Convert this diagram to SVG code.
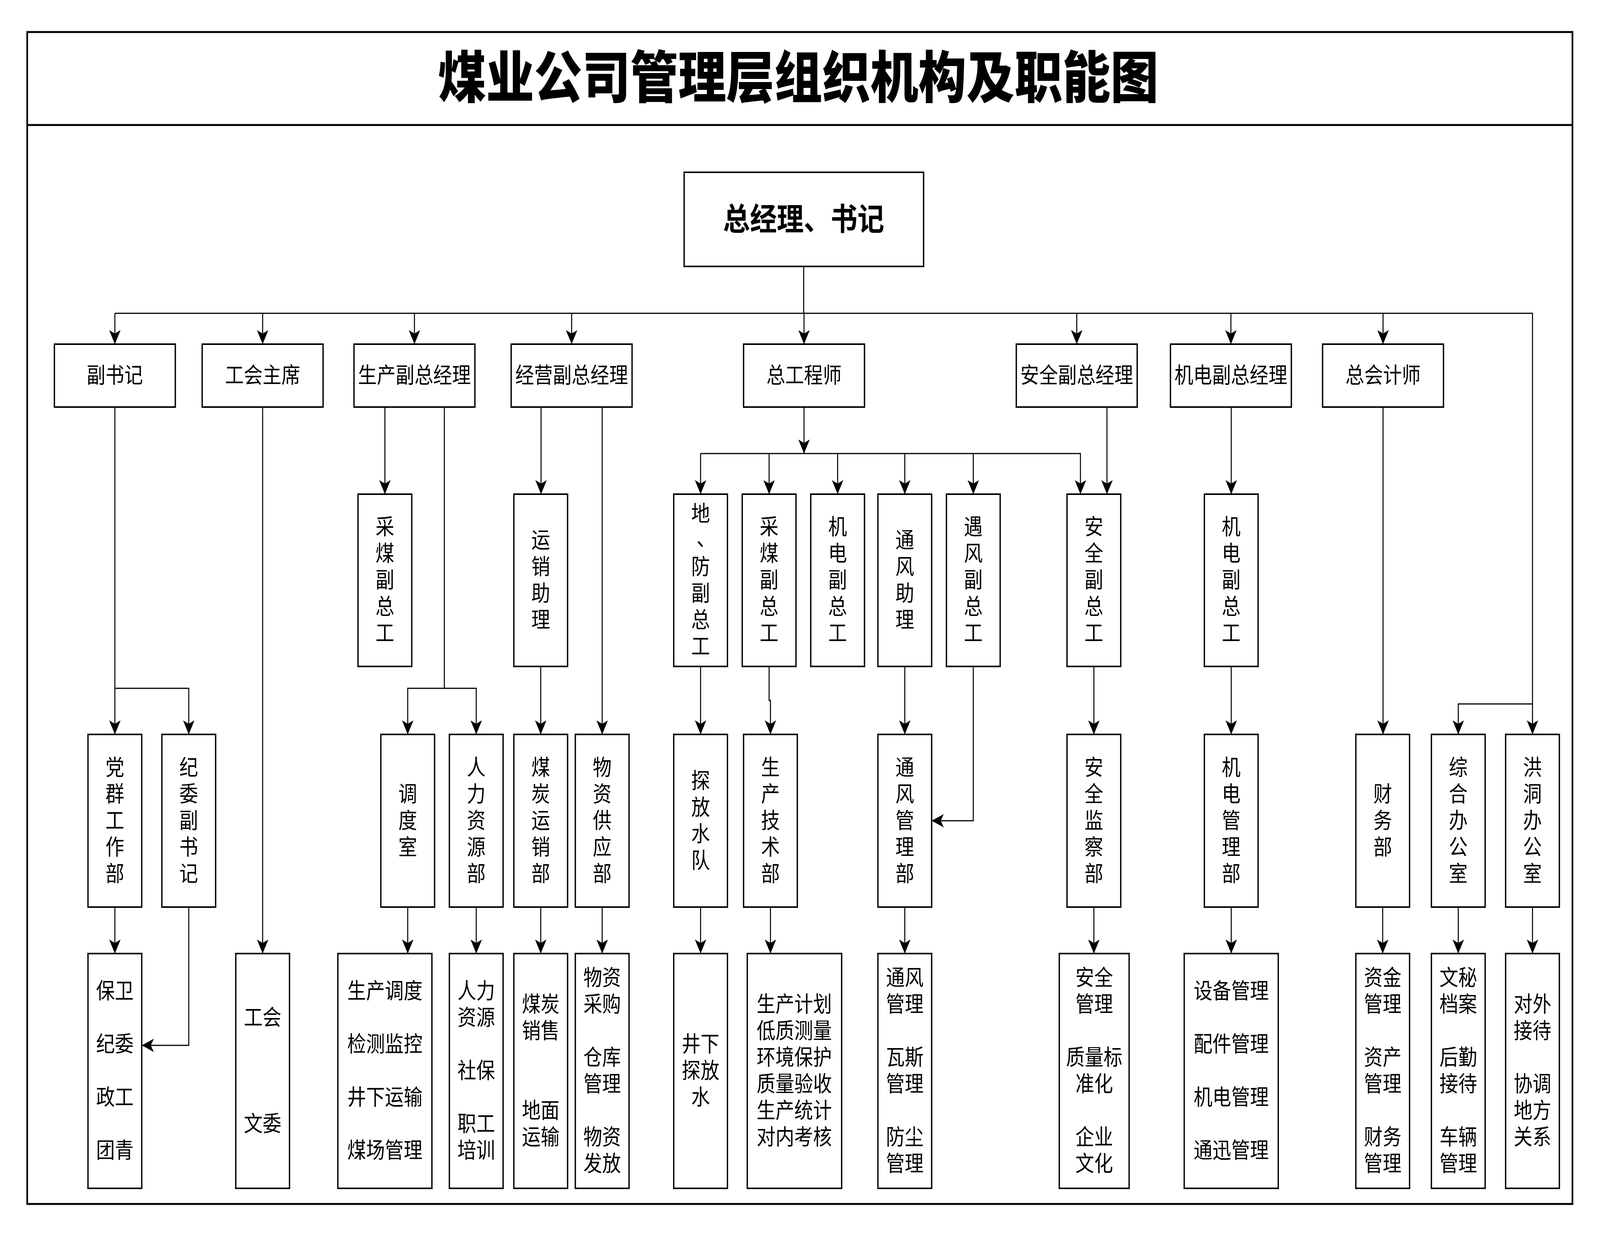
<svg xmlns="http://www.w3.org/2000/svg" width="4764" height="3164" viewBox="0 0 4764 3164" preserveAspectRatio="none">
<defs>
<style>
svg{width:100vw;height:100vh;display:block}
.box{fill:#fff;stroke:#000;stroke-width:4}
.frame{fill:none;stroke:#000;stroke-width:5}
.conn{fill:none;stroke:#000;stroke-width:3}
.arr{marker-end:url(#arrow)}
.t{font-family:"Liberation Sans","Noto Sans CJK SC",sans-serif;font-size:56px;text-anchor:middle;dominant-baseline:central;fill:#000}
.title{font-family:"Liberation Sans","Noto Sans CJK SC",sans-serif;font-size:143px;font-weight:900;text-anchor:middle;dominant-baseline:central;fill:#000}
.main{font-family:"Liberation Sans","Noto Sans CJK SC",sans-serif;font-size:80px;font-weight:700;text-anchor:middle;dominant-baseline:central;fill:#000}
</style>
<marker id="arrow" markerUnits="userSpaceOnUse" markerWidth="36" markerHeight="34" viewBox="0 0 36 34" refX="36" refY="17" orient="auto">
<path d="M0,0 L36,17 L0,34 L9,17 Z" fill="#000"/>
</marker>
</defs>
<rect x="0" y="0" width="4764" height="3164" fill="#fff"/>
<g id="frame">
<rect class="frame" x="81" y="82" width="4601" height="3000"/>
<line class="frame" x1="81" y1="320" x2="4682" y2="320"/>
<text class="title" x="2377" y="200">煤业公司管理层组织机构及职能图</text>
</g>

<g id="connectors">
<path class="conn" d="M2393,682 V802"/>
<path class="conn arr" d="M342,802 H4563 V1880"/>
<path class="conn arr" d="M342,802 V881"/>
<path class="conn arr" d="M782,802 V881"/>
<path class="conn arr" d="M1234,802 V881"/>
<path class="conn arr" d="M1702,802 V881"/>
<path class="conn arr" d="M2394,802 V881"/>
<path class="conn arr" d="M3206,802 V881"/>
<path class="conn arr" d="M3665,802 V881"/>
<path class="conn arr" d="M4118,802 V881"/>
<path class="conn arr" d="M4563,1802 H4342 V1880"/>
<path class="conn arr" d="M342,1042 V1880"/>
<path class="conn arr" d="M342,1762 H562 V1880"/>
<path class="conn arr" d="M342,2322 V2441"/>
<path class="conn arr" d="M562,2322 V2676 H422"/>
<path class="conn arr" d="M782,1042 V2441"/>
<path class="conn arr" d="M1146,1042 V1265"/>
<path class="conn arr" d="M1323,1042 V1762 H1214 V1880"/>
<path class="conn arr" d="M1323,1762 H1418 V1880"/>
<path class="conn arr" d="M1214,2322 V2441"/>
<path class="conn arr" d="M1418,2322 V2441"/>
<path class="conn arr" d="M1611,1042 V1265"/>
<path class="conn arr" d="M1793,1042 V1880"/>
<path class="conn arr" d="M1610,1706 V1880"/>
<path class="conn arr" d="M1610,2322 V2441"/>
<path class="conn arr" d="M1793,2322 V2441"/>
<path class="conn arr" d="M2394,1042 V1161"/>
<path class="conn arr" d="M2086,1161 H3217 V1265"/>
<path class="conn arr" d="M2086,1161 V1265"/>
<path class="conn arr" d="M2290,1161 V1265"/>
<path class="conn arr" d="M2494,1161 V1265"/>
<path class="conn arr" d="M2694,1161 V1265"/>
<path class="conn arr" d="M2898,1161 V1265"/>
<path class="conn arr" d="M2086,1706 V1880"/>
<path class="conn arr" d="M2086,2322 V2441"/>
<path class="conn arr" d="M2290,1706 V1793 H2294 V1880"/>
<path class="conn arr" d="M2294,2322 V2441"/>
<path class="conn arr" d="M2694,1706 V1880"/>
<path class="conn arr" d="M2694,2322 V2441"/>
<path class="conn arr" d="M2898,1706 V2101 H2774"/>
<path class="conn arr" d="M3296,1042 V1265"/>
<path class="conn arr" d="M3257,1706 V1880"/>
<path class="conn arr" d="M3257,2322 V2441"/>
<path class="conn arr" d="M3666,1042 V1265"/>
<path class="conn arr" d="M3666,1706 V1880"/>
<path class="conn arr" d="M3666,2322 V2441"/>
<path class="conn arr" d="M4118,1042 V1880"/>
<path class="conn arr" d="M4117,2322 V2441"/>
<path class="conn arr" d="M4342,2322 V2441"/>
<path class="conn arr" d="M4563,2322 V2441"/>
</g>

<g id="n-root"><rect class="box" x="2037" y="441" width="713" height="241"/><text class="main" x="2393" y="561">总经理、书记</text></g>

<g id="n-fushuji"><rect class="box" x="162" y="881" width="360" height="161"/><text class="t" x="342" y="961">副书记</text></g>
<g id="n-gonghuizhuxi"><rect class="box" x="602" y="881" width="360" height="161"/><text class="t" x="782" y="961">工会主席</text></g>
<g id="n-shengchanfzjl"><rect class="box" x="1054" y="881" width="360" height="161"/><text class="t" x="1234" y="961">生产副总经理</text></g>
<g id="n-jingyingfzjl"><rect class="box" x="1522" y="881" width="360" height="161"/><text class="t" x="1702" y="961">经营副总经理</text></g>
<g id="n-zonggongchengshi"><rect class="box" x="2214" y="881" width="360" height="161"/><text class="t" x="2394" y="961">总工程师</text></g>
<g id="n-anquanfzjl"><rect class="box" x="3026" y="881" width="360" height="161"/><text class="t" x="3206" y="961">安全副总经理</text></g>
<g id="n-jidianfzjl"><rect class="box" x="3485" y="881" width="360" height="161"/><text class="t" x="3665" y="961">机电副总经理</text></g>
<g id="n-zongkuaijishi"><rect class="box" x="3938" y="881" width="360" height="161"/><text class="t" x="4118" y="961">总会计师</text></g>

<g id="n-caimeifzg1"><rect class="box" x="1066" y="1265" width="160" height="441"/><text class="t"><tspan x="1146" y="1349">采</tspan><tspan x="1146" y="1417">煤</tspan><tspan x="1146" y="1485">副</tspan><tspan x="1146" y="1553">总</tspan><tspan x="1146" y="1621">工</tspan></text></g>
<g id="n-yunxiaozhuli"><rect class="box" x="1530" y="1265" width="160" height="441"/><text class="t"><tspan x="1610" y="1383">运</tspan><tspan x="1610" y="1451">销</tspan><tspan x="1610" y="1519">助</tspan><tspan x="1610" y="1587">理</tspan></text></g>
<g id="n-difangfzg"><rect class="box" x="2006" y="1265" width="160" height="441"/><text class="t"><tspan x="2086" y="1315">地</tspan><tspan x="2102" y="1378">、</tspan><tspan x="2086" y="1451">防</tspan><tspan x="2086" y="1519">副</tspan><tspan x="2086" y="1587">总</tspan><tspan x="2086" y="1655">工</tspan></text></g>
<g id="n-caimeifzg2"><rect class="box" x="2210" y="1265" width="160" height="441"/><text class="t"><tspan x="2290" y="1349">采</tspan><tspan x="2290" y="1417">煤</tspan><tspan x="2290" y="1485">副</tspan><tspan x="2290" y="1553">总</tspan><tspan x="2290" y="1621">工</tspan></text></g>
<g id="n-jidianfzg1"><rect class="box" x="2414" y="1265" width="160" height="441"/><text class="t"><tspan x="2494" y="1349">机</tspan><tspan x="2494" y="1417">电</tspan><tspan x="2494" y="1485">副</tspan><tspan x="2494" y="1553">总</tspan><tspan x="2494" y="1621">工</tspan></text></g>
<g id="n-tongfengzhuli"><rect class="box" x="2614" y="1265" width="160" height="441"/><text class="t"><tspan x="2694" y="1383">通</tspan><tspan x="2694" y="1451">风</tspan><tspan x="2694" y="1519">助</tspan><tspan x="2694" y="1587">理</tspan></text></g>
<g id="n-yufengfzg"><rect class="box" x="2818" y="1265" width="160" height="441"/><text class="t"><tspan x="2898" y="1349">遇</tspan><tspan x="2898" y="1417">风</tspan><tspan x="2898" y="1485">副</tspan><tspan x="2898" y="1553">总</tspan><tspan x="2898" y="1621">工</tspan></text></g>
<g id="n-anquanfzg"><rect class="box" x="3177" y="1265" width="160" height="441"/><text class="t"><tspan x="3257" y="1349">安</tspan><tspan x="3257" y="1417">全</tspan><tspan x="3257" y="1485">副</tspan><tspan x="3257" y="1553">总</tspan><tspan x="3257" y="1621">工</tspan></text></g>
<g id="n-jidianfzg2"><rect class="box" x="3586" y="1265" width="160" height="441"/><text class="t"><tspan x="3666" y="1349">机</tspan><tspan x="3666" y="1417">电</tspan><tspan x="3666" y="1485">副</tspan><tspan x="3666" y="1553">总</tspan><tspan x="3666" y="1621">工</tspan></text></g>

<g id="n-dangqun"><rect class="box" x="262" y="1880" width="160" height="442"/><text class="t"><tspan x="342" y="1965">党</tspan><tspan x="342" y="2033">群</tspan><tspan x="342" y="2101">工</tspan><tspan x="342" y="2169">作</tspan><tspan x="342" y="2237">部</tspan></text></g>
<g id="n-jiwei"><rect class="box" x="482" y="1880" width="160" height="442"/><text class="t"><tspan x="562" y="1965">纪</tspan><tspan x="562" y="2033">委</tspan><tspan x="562" y="2101">副</tspan><tspan x="562" y="2169">书</tspan><tspan x="562" y="2237">记</tspan></text></g>
<g id="n-diaodu"><rect class="box" x="1134" y="1880" width="160" height="442"/><text class="t"><tspan x="1214" y="2033">调</tspan><tspan x="1214" y="2101">度</tspan><tspan x="1214" y="2169">室</tspan></text></g>
<g id="n-renli"><rect class="box" x="1338" y="1880" width="160" height="442"/><text class="t"><tspan x="1418" y="1965">人</tspan><tspan x="1418" y="2033">力</tspan><tspan x="1418" y="2101">资</tspan><tspan x="1418" y="2169">源</tspan><tspan x="1418" y="2237">部</tspan></text></g>
<g id="n-meitanyunxiao"><rect class="box" x="1530" y="1880" width="160" height="442"/><text class="t"><tspan x="1610" y="1965">煤</tspan><tspan x="1610" y="2033">炭</tspan><tspan x="1610" y="2101">运</tspan><tspan x="1610" y="2169">销</tspan><tspan x="1610" y="2237">部</tspan></text></g>
<g id="n-wuzi"><rect class="box" x="1713" y="1880" width="160" height="442"/><text class="t"><tspan x="1793" y="1965">物</tspan><tspan x="1793" y="2033">资</tspan><tspan x="1793" y="2101">供</tspan><tspan x="1793" y="2169">应</tspan><tspan x="1793" y="2237">部</tspan></text></g>
<g id="n-tanfang"><rect class="box" x="2006" y="1880" width="160" height="442"/><text class="t"><tspan x="2086" y="1999">探</tspan><tspan x="2086" y="2067">放</tspan><tspan x="2086" y="2135">水</tspan><tspan x="2086" y="2203">队</tspan></text></g>
<g id="n-shengchanjishu"><rect class="box" x="2214" y="1880" width="160" height="442"/><text class="t"><tspan x="2294" y="1965">生</tspan><tspan x="2294" y="2033">产</tspan><tspan x="2294" y="2101">技</tspan><tspan x="2294" y="2169">术</tspan><tspan x="2294" y="2237">部</tspan></text></g>
<g id="n-tongfengguanli"><rect class="box" x="2614" y="1880" width="160" height="442"/><text class="t"><tspan x="2694" y="1965">通</tspan><tspan x="2694" y="2033">风</tspan><tspan x="2694" y="2101">管</tspan><tspan x="2694" y="2169">理</tspan><tspan x="2694" y="2237">部</tspan></text></g>
<g id="n-anquanjiancha"><rect class="box" x="3177" y="1880" width="160" height="442"/><text class="t"><tspan x="3257" y="1965">安</tspan><tspan x="3257" y="2033">全</tspan><tspan x="3257" y="2101">监</tspan><tspan x="3257" y="2169">察</tspan><tspan x="3257" y="2237">部</tspan></text></g>
<g id="n-jidianguanli"><rect class="box" x="3586" y="1880" width="160" height="442"/><text class="t"><tspan x="3666" y="1965">机</tspan><tspan x="3666" y="2033">电</tspan><tspan x="3666" y="2101">管</tspan><tspan x="3666" y="2169">理</tspan><tspan x="3666" y="2237">部</tspan></text></g>
<g id="n-caiwu"><rect class="box" x="4037" y="1880" width="160" height="442"/><text class="t"><tspan x="4117" y="2033">财</tspan><tspan x="4117" y="2101">务</tspan><tspan x="4117" y="2169">部</tspan></text></g>
<g id="n-zonghe"><rect class="box" x="4262" y="1880" width="160" height="442"/><text class="t"><tspan x="4342" y="1965">综</tspan><tspan x="4342" y="2033">合</tspan><tspan x="4342" y="2101">办</tspan><tspan x="4342" y="2169">公</tspan><tspan x="4342" y="2237">室</tspan></text></g>
<g id="n-hongdong"><rect class="box" x="4483" y="1880" width="160" height="442"/><text class="t"><tspan x="4563" y="1965">洪</tspan><tspan x="4563" y="2033">洞</tspan><tspan x="4563" y="2101">办</tspan><tspan x="4563" y="2169">公</tspan><tspan x="4563" y="2237">室</tspan></text></g>

<g id="f-baowei"><rect class="box" x="262" y="2441" width="160" height="601"/><text class="t"><tspan x="342" y="2537">保卫</tspan><tspan x="342" y="2673">纪委</tspan><tspan x="342" y="2809">政工</tspan><tspan x="342" y="2945">团青</tspan></text></g>
<g id="f-gonghui"><rect class="box" x="702" y="2441" width="160" height="601"/><text class="t"><tspan x="782" y="2605">工会</tspan><tspan x="782" y="2877">文委</tspan></text></g>
<g id="f-shengchandiaodu"><rect class="box" x="1006" y="2441" width="280" height="601"/><text class="t"><tspan x="1146" y="2537">生产调度</tspan><tspan x="1146" y="2673">检测监控</tspan><tspan x="1146" y="2809">井下运输</tspan><tspan x="1146" y="2945">煤场管理</tspan></text></g>
<g id="f-renli"><rect class="box" x="1338" y="2441" width="160" height="601"/><text class="t"><tspan x="1418" y="2537">人力</tspan><tspan x="1418" y="2605">资源</tspan><tspan x="1418" y="2741">社保</tspan><tspan x="1418" y="2877">职工</tspan><tspan x="1418" y="2945">培训</tspan></text></g>
<g id="f-meitan"><rect class="box" x="1530" y="2441" width="160" height="601"/><text class="t"><tspan x="1610" y="2571">煤炭</tspan><tspan x="1610" y="2639">销售</tspan><tspan x="1610" y="2843">地面</tspan><tspan x="1610" y="2911">运输</tspan></text></g>
<g id="f-wuzi"><rect class="box" x="1713" y="2441" width="160" height="601"/><text class="t"><tspan x="1793" y="2503">物资</tspan><tspan x="1793" y="2571">采购</tspan><tspan x="1793" y="2707">仓库</tspan><tspan x="1793" y="2775">管理</tspan><tspan x="1793" y="2911">物资</tspan><tspan x="1793" y="2979">发放</tspan></text></g>
<g id="f-jingxia"><rect class="box" x="2006" y="2441" width="160" height="601"/><text class="t"><tspan x="2086" y="2673">井下</tspan><tspan x="2086" y="2741">探放</tspan><tspan x="2086" y="2809">水</tspan></text></g>
<g id="f-shengchanjihua"><rect class="box" x="2225" y="2441" width="281" height="601"/><text class="t"><tspan x="2365" y="2571">生产计划</tspan><tspan x="2365" y="2639">低质测量</tspan><tspan x="2365" y="2707">环境保护</tspan><tspan x="2365" y="2775">质量验收</tspan><tspan x="2365" y="2843">生产统计</tspan><tspan x="2365" y="2911">对内考核</tspan></text></g>
<g id="f-tongfeng"><rect class="box" x="2614" y="2441" width="160" height="601"/><text class="t"><tspan x="2694" y="2503">通风</tspan><tspan x="2694" y="2571">管理</tspan><tspan x="2694" y="2707">瓦斯</tspan><tspan x="2694" y="2775">管理</tspan><tspan x="2694" y="2911">防尘</tspan><tspan x="2694" y="2979">管理</tspan></text></g>
<g id="f-anquan"><rect class="box" x="3154" y="2441" width="208" height="601"/><text class="t"><tspan x="3258" y="2503">安全</tspan><tspan x="3258" y="2571">管理</tspan><tspan x="3258" y="2707">质量标</tspan><tspan x="3258" y="2775">准化</tspan><tspan x="3258" y="2911">企业</tspan><tspan x="3258" y="2979">文化</tspan></text></g>
<g id="f-shebei"><rect class="box" x="3526" y="2441" width="280" height="601"/><text class="t"><tspan x="3666" y="2537">设备管理</tspan><tspan x="3666" y="2673">配件管理</tspan><tspan x="3666" y="2809">机电管理</tspan><tspan x="3666" y="2945">通迅管理</tspan></text></g>
<g id="f-zijin"><rect class="box" x="4037" y="2441" width="160" height="601"/><text class="t"><tspan x="4117" y="2503">资金</tspan><tspan x="4117" y="2571">管理</tspan><tspan x="4117" y="2707">资产</tspan><tspan x="4117" y="2775">管理</tspan><tspan x="4117" y="2911">财务</tspan><tspan x="4117" y="2979">管理</tspan></text></g>
<g id="f-wenmi"><rect class="box" x="4262" y="2441" width="160" height="601"/><text class="t"><tspan x="4342" y="2503">文秘</tspan><tspan x="4342" y="2571">档案</tspan><tspan x="4342" y="2707">后勤</tspan><tspan x="4342" y="2775">接待</tspan><tspan x="4342" y="2911">车辆</tspan><tspan x="4342" y="2979">管理</tspan></text></g>
<g id="f-duiwai"><rect class="box" x="4483" y="2441" width="160" height="601"/><text class="t"><tspan x="4563" y="2571">对外</tspan><tspan x="4563" y="2639">接待</tspan><tspan x="4563" y="2775">协调</tspan><tspan x="4563" y="2843">地方</tspan><tspan x="4563" y="2911">关系</tspan></text></g>
</svg>
